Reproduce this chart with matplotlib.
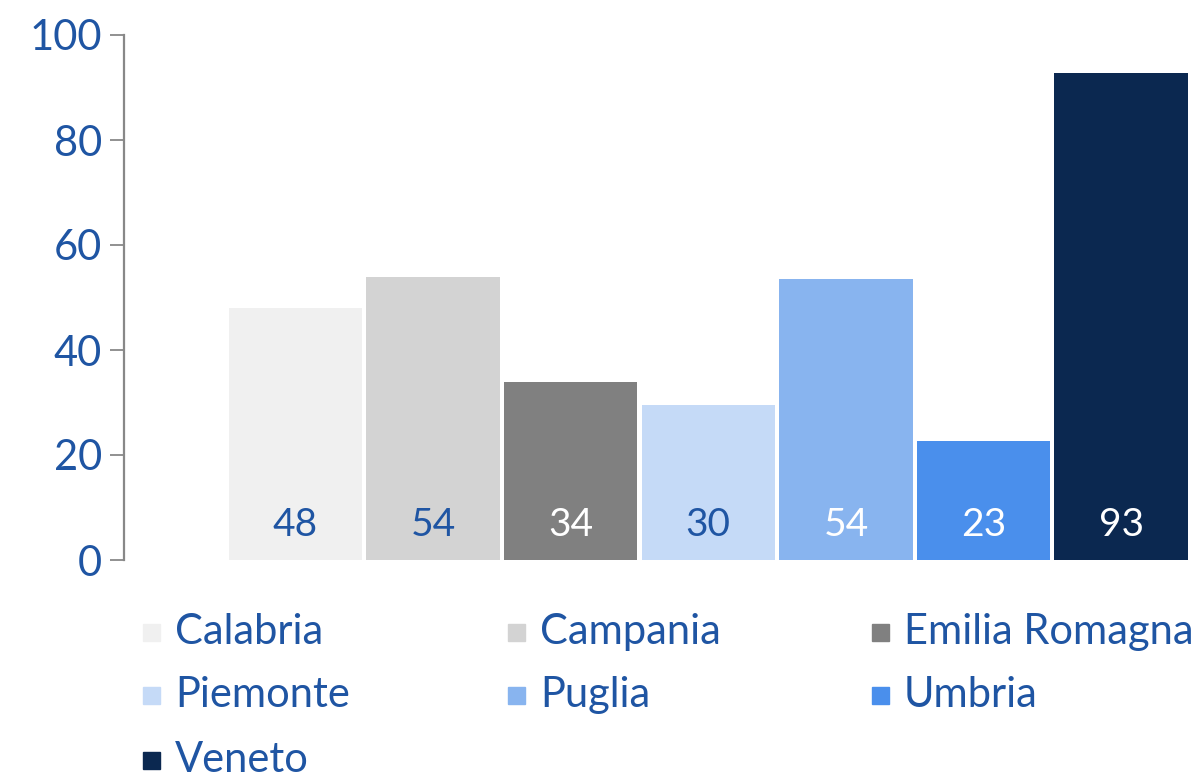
import matplotlib.pyplot as plt
from matplotlib.patches import Rectangle

# data
regions = ['Calabria', 'Campania', 'Emilia Romagna', 'Piemonte', 'Puglia', 'Umbria', 'Veneto']
values = [48, 54, 34, 29.6, 53.6, 22.6, 92.7]
colors = ['#F0F0F0', '#D3D3D3', '#808080', '#C5DAF7', '#88B4EF', '#4A8FEC', '#0B2850']
label_colors = ['#1F55A3', '#1F55A3', 'white', '#1F55A3', 'white', 'white', 'white']
yticks = [0, 20, 40, 60, 80, 100]

txt = '#1F55A3'
plt.rcParams['font.family'] = ['Lato', 'DejaVu Sans']

fig = plt.figure(figsize=(11.94, 7.77), dpi=100)
ax = fig.add_axes([124 / 1194, 217 / 777, (1190 - 124) / 1194, 525 / 777])

x = list(range(len(regions)))
ax.bar(x, values, width=0.97, color=colors)
for xi, v, c in zip(x, values, label_colors):
    ax.text(xi, 6.6, f'{round(v)}', ha='center', va='center', fontsize=28, color=c)

ax.set_xlim(-1.245, 6.5)
ax.set_ylim(0, 100)
ax.set_yticks(yticks)
ax.tick_params(axis='y', direction='out', length=10, width=1.3, color='#888888',
               labelsize=30, labelcolor=txt, pad=6)
ax.set_xticks([])
for s in ['top', 'right', 'bottom']:
    ax.spines[s].set_visible(False)
ax.spines['left'].set_color('#888888')
ax.spines['left'].set_linewidth(1.6)

# legend laid out row by row, three columns
col_x = [143, 508, 872]
row_y = [632, 695, 760]
for i, (name, c) in enumerate(zip(regions, colors)):
    r, k = divmod(i, 3)
    px, py = col_x[k], row_y[r]
    fig.add_artist(Rectangle((px / 1194, 1 - (py + 9) / 777), 17 / 1194, 17 / 777,
                             transform=fig.transFigure, color=c))
    fig.text((px + 32) / 1194, 1 - py / 777, name, fontsize=30, color=txt,
             ha='left', va='center')

fig.savefig('out.png', dpi=100)
